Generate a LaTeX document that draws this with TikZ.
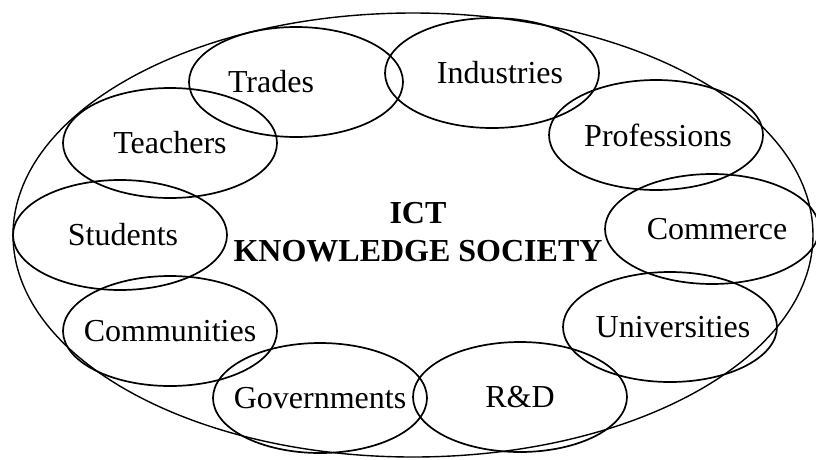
\documentclass[tikz,border=0pt]{standalone}
\usepackage{fontspec}
\setmainfont{Liberation Serif}
\usetikzlibrary{shapes.geometric}
\begin{document}
\begin{tikzpicture}[x=1pt,y=-1pt,line width=1.7pt,
  bubble/.style={ellipse,draw,minimum width=214pt,minimum height=110pt,inner sep=0pt},
  every label/.style={font=\fontsize{32}{37}\selectfont}]
\useasboundingbox (0,0) rectangle (816,459);
\node[ellipse,draw,line width=1.4pt,minimum width=800pt,minimum height=444pt,inner sep=0pt,
  label={[align=center,font=\bfseries\fontsize{32}{38}\selectfont,xshift=5pt,yshift=3pt]center:ICT\\KNOWLEDGE SOCIETY}] (ks) at (413,235) {};
\foreach \n/\x/\y/\dx/\t in {trades/296/82/-25/Trades,industries/492/73/8/Industries,professions/656/135/2/Professions,
  commerce/712/229/5/Commerce,universities/670/327/3/Universities,rd/520/397/0/R\&D,governments/320/398/0/Governments,
  communities/170/331/0/Communities,students/120/235/3/Students,teachers/170/143/0/Teachers}
  {\node[bubble,label={[xshift=\dx pt]center:\t}] (\n) at (\x,\y) {};}
\end{tikzpicture}
\end{document}
